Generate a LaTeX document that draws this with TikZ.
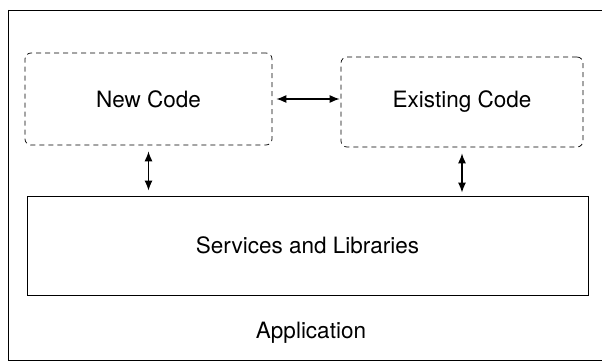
\documentclass[tikz,border=0pt]{standalone}
\usepackage{fontspec}
\setmainfont{TeX Gyre Heros}
\usetikzlibrary{arrows.meta}
\begin{document}
\begin{tikzpicture}[x=1pt,y=-1pt,font=\fontsize{22.5}{26}\selectfont,
  part/.style={draw,dashed,dash pattern=on 5pt off 4pt,rounded corners=6pt,line width=0.7pt},
  link/.style={{Latex[length=10pt,width=8pt]}-{Latex[length=10pt,width=8pt]},line width=1.2pt}]
\useasboundingbox (0,0) rectangle (602,363);
% whole application
\draw[line width=0.9pt] (8,10) -- (612,10) (8,10) -- (8,360) -- (612,360);
\draw (148.5,99) node[part,minimum width=247pt,minimum height=92pt] (new) {New Code};
\draw (462,102) node[part,minimum width=242pt,minimum height=90pt] (old) {Existing Code};
\draw (307.5,245.5) node[draw,line width=0.9pt,minimum width=561pt,minimum height=99pt] (svc) {Services and Libraries};
\draw (311,333) node (app) {Application};
% connections
\draw[link,shorten <=4pt,shorten >=1pt] (new.east) -- (new.east -| old.west);
\draw[link,shorten <=6pt,shorten >=5pt] (new.south) -- (new.south |- svc.north);
\draw[link,shorten <=6pt,shorten >=3pt] (old.south) -- (old.south |- svc.north);
\end{tikzpicture}
\end{document}
